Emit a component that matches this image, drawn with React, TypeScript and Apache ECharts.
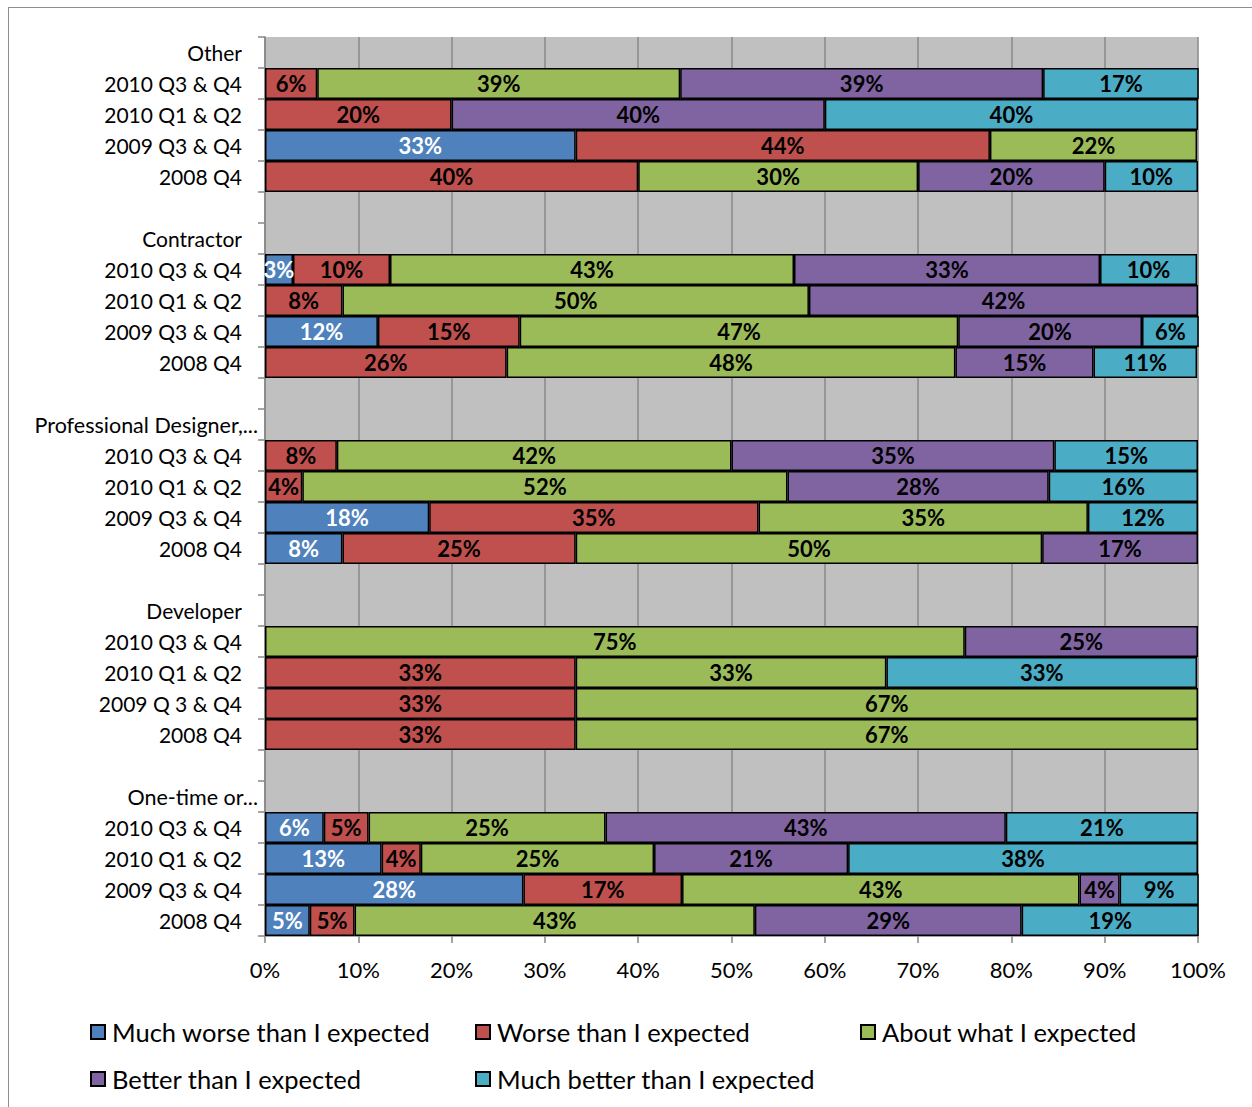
import React, { useEffect, useRef } from "react";
import * as echarts from "echarts";

const groupNames = ["Other", "Contractor", "Professional Designer,...", "Developer", "One-time or..."];
const periodLabels = [
  ["2010 Q3 & Q4", "2010 Q1 & Q2", "2009 Q3 & Q4", "2008 Q4"],
  ["2010 Q3 & Q4", "2010 Q1 & Q2", "2009 Q3 & Q4", "2008 Q4"],
  ["2010 Q3 & Q4", "2010 Q1 & Q2", "2009 Q3 & Q4", "2008 Q4"],
  ["2010 Q3 & Q4", "2010 Q1 & Q2", "2009 Q 3 & Q4", "2008 Q4"],
  ["2010 Q3 & Q4", "2010 Q1 & Q2", "2009 Q3 & Q4", "2008 Q4"],
];
const ellipsisLabels = ["Professional Designer,...", "One-time or..."];

const seriesNames = [
  "Much worse than I expected",
  "Worse than I expected",
  "About what I expected",
  "Better than I expected",
  "Much better than I expected",
];
const seriesColors = ["#4F81BD", "#C0504D", "#9BBB59", "#8064A2", "#4BACC6"];
const labelColors = ["#FFFFFF", "#000000", "#000000", "#000000", "#000000"];

// per group: [2010 Q3&Q4, 2010 Q1&Q2, 2009 Q3&Q4, 2008 Q4]
const muchWorse = [
  null, null, 33.3, null,
  3.0, null, 12.1, null,
  null, null, 17.6, 8.3,
  null, null, null, null,
  6.3, 12.5, 27.7, 4.8,
];
const worse = [
  5.6, 20, 44.4, 40,
  10.4, 8.3, 15.2, 25.9,
  7.7, 4.0, 35.3, 25.0,
  null, 33.3, 33.3, 33.3,
  4.8, 4.2, 17.0, 4.8,
];
const about = [
  38.9, null, 22.2, 30,
  43.3, 50, 47.0, 48.1,
  42.3, 52, 35.3, 50,
  75, 33.3, 66.7, 66.7,
  25.4, 25, 42.6, 42.9,
];
const better = [
  38.9, 40, null, 20,
  32.8, 41.7, 19.7, 14.8,
  34.6, 28, null, 16.7,
  25, null, null, null,
  42.9, 20.8, 4.3, 28.6,
];
const muchBetter = [
  16.7, 40, null, 10,
  10.4, null, 6.1, 11.1,
  15.4, 16, 11.8, null,
  null, 33.3, null, null,
  20.6, 37.5, 8.5, 19.0,
];
const seriesValues = [muchWorse, worse, about, better, muchBetter];

const xTicks = [0, 10, 20, 30, 40, 50, 60, 70, 80, 90, 100];

const FONT = "Lato";

function buildRows() {
  const labels: string[] = [];
  const dataIdx: (number | null)[] = [];
  groupNames.forEach((g, gi) => {
    if (gi > 0) {
      labels.push("");
      dataIdx.push(null);
    }
    labels.push(g);
    dataIdx.push(null);
    periodLabels[gi].forEach((p, pi) => {
      labels.push(p);
      dataIdx.push(gi * 4 + pi);
    });
  });
  return { labels, dataIdx };
}

export default function App() {
  const ref = useRef<HTMLDivElement>(null);
  useEffect(() => {
    if (!ref.current) return;
    const chart = echarts.init(ref.current, null, { renderer: "svg" });
    const { labels, dataIdx } = buildRows();
    const series = seriesNames.map((name, si) => ({
      name,
      type: "bar",
      stack: "total",
      barCategoryGap: "0%",
      data: dataIdx.map((d) => (d == null ? null : seriesValues[si][d])),
      itemStyle: { color: seriesColors[si], borderColor: "#000", borderWidth: 1.5 },
      label: {
        show: true,
        position: "inside",
        color: labelColors[si],
        fontFamily: FONT,
        fontWeight: "bold",
        fontSize: 22,
        formatter: (p: any) => (p.value == null ? "" : Math.round(p.value) + "%"),
      },
    }));
    const legendCols = [90, 475, 860];
    const legendRows = [1018, 1065];
    const legends = seriesNames.map((name, i) => ({
      data: [name],
      left: legendCols[i % 3],
      top: legendRows[Math.floor(i / 3)],
      padding: 0,
      icon: "rect",
      itemWidth: 14,
      itemHeight: 14,
      selectedMode: false,
      textStyle: {
        fontFamily: FONT,
        fontSize: 25.5,
        color: "#000",
        lineHeight: 28,
        padding: [0, 0, 0, 2],
      },
    }));
    chart.setOption({
      animation: false,
      textStyle: { fontFamily: FONT },
      grid: {
        left: 265,
        top: 37,
        right: 54,
        bottom: 171,
        show: true,
        backgroundColor: "#C0C0C0",
        borderWidth: 0,
        containLabel: false,
      },
      legend: legends,
      xAxis: {
        type: "value",
        min: xTicks[0],
        max: xTicks[xTicks.length - 1],
        interval: 10,
        axisLine: { show: true, lineStyle: { color: "#868686", width: 1.5 } },
        axisTick: { show: true, length: 7, lineStyle: { color: "#868686", width: 1.5 } },
        splitLine: { show: true, lineStyle: { color: "#8A8A8A", width: 1.5 } },
        axisLabel: {
          color: "#000",
          fontFamily: FONT,
          fontSize: 22,
          margin: 22,
          formatter: (v: number) => v + "%",
        },
      },
      yAxis: {
        type: "category",
        inverse: true,
        data: labels.map((_, i) => "r" + i),
        axisLine: { show: true, lineStyle: { color: "#868686", width: 1.5 } },
        axisTick: { show: true, interval: 0, length: 7, lineStyle: { color: "#868686", width: 1.5 } },
        splitLine: { show: false },
        axisLabel: {
          interval: 0,
          margin: 7,
          formatter: (v: string) => {
            const t = labels[Number(v.slice(1))];
            if (!t) return "";
            return ellipsisLabels.includes(t) ? "{e|" + t + "}" : "{n|" + t + "}";
          },
          rich: {
            n: { fontFamily: FONT, fontSize: 21, color: "#000", padding: [0, 16, 0, 0] },
            e: { fontFamily: FONT, fontSize: 21.5, color: "#000" },
          },
        },
      },
      series,
    });
    return () => chart.dispose();
  }, []);
  return (
    <div style={{ position: "fixed", left: 0, top: 0, width: 1252, height: 1107, overflow: "hidden", background: "#fff" }}>
      <div
        style={{
          position: "absolute",
          left: 8,
          top: 7,
          width: 1400,
          height: 1300,
          borderLeft: "1.5px solid #8E8E8E",
          borderTop: "1.5px solid #8E8E8E",
          boxSizing: "border-box",
        }}
      />
      <div ref={ref} style={{ position: "absolute", left: 0, top: 0, width: 1252, height: 1107 }} />
    </div>
  );
}
